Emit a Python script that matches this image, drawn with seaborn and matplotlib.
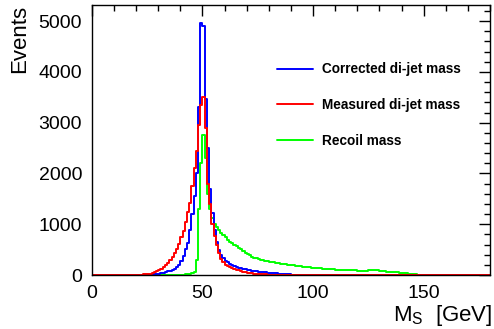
import numpy as np
import pandas as pd
import seaborn as sns
import matplotlib.pyplot as plt
from matplotlib.lines import Line2D
from matplotlib.ticker import MultipleLocator

# 1 GeV bins from 0 to 180, counts
n_bins = 180
x_range = (0, 180)

blue_start = 23
corrected = [2, 4, 6, 9, 13, 18, 24, 30, 38, 48,                # 23-32
             60, 72, 85, 100, 125, 160, 200, 280, 380, 520,    # 33-42
             640, 880, 1200, 1550, 2010, 3300, 4960, 4900, 3470, 2500,  # 43-52
             1700, 1220, 880, 660, 500, 400, 330, 280, 250, 215,  # 53-62
             195, 175, 160, 145, 130, 120, 110, 102, 95, 88,      # 63-72
             80, 74, 68, 62, 57, 52, 48, 44, 40, 36,             # 73-82
             32, 29, 26, 23, 20, 17, 14, 10, 6, 3, 2, 1]         # 83-94

red_start = 18
measured = [2, 3, 4, 6, 9, 12, 16, 20, 28, 38,                   # 18-27
            55, 75, 95, 120, 150, 190, 240, 290, 350, 430,     # 28-37
            520, 620, 740, 860, 1050, 1250, 1420, 1750, 2100, 2450,  # 38-47
            2950, 3350, 3500, 2900, 1800, 1400, 1000, 760, 590, 440,  # 48-57
            320, 250, 200, 170, 150, 130, 115, 100, 90, 75,     # 58-67
            65, 55, 48, 40, 34, 29, 25, 21, 17, 14,             # 68-77
            11, 9, 7, 6, 5, 4, 3, 2, 2, 1]                      # 78-87

green_start = 40
recoil = [5, 8, 12, 18, 25, 35, 60, 300, 1300, 2200,             # 40-49
          2760, 2300, 1600, 1300, 1130, 1000, 940, 890, 830, 790,  # 50-59
          750, 700, 660, 630, 600, 570, 540, 510, 480, 440,      # 60-69
          410, 390, 365, 345, 330, 315, 305, 295, 285, 270,      # 70-79
          262, 255, 248, 240, 232, 225, 218, 210, 204, 198,      # 80-89
          193, 188, 183, 178, 172, 166, 160, 155, 150, 146,      # 90-99
          142, 140, 136, 132, 128, 124, 120, 117, 114, 111,      # 100-109
          108, 105, 103, 101, 99, 97, 95, 93, 91, 90,            # 110-119
          88, 87, 86, 85, 88, 92, 95, 97, 96, 92,                # 120-129
          84, 78, 72, 68, 64, 60, 57, 55, 53, 50,                # 130-139
          47, 42, 36, 30, 24, 18, 13, 9, 6, 4,                   # 140-149
          2, 2, 1, 1]                                            # 150-153

labels = ["Corrected di-jet mass", "Measured di-jet mass", "Recoil mass"]
colors = ["#0000ff", "#ff0000", "#00ff00"]


def full_counts(start, vals):
    counts = np.zeros(n_bins)
    counts[start:start + len(vals)] = vals
    return counts


centers = np.arange(n_bins) + 0.5
series = [full_counts(blue_start, corrected),
          full_counts(red_start, measured),
          full_counts(green_start, recoil)]

sns.set_style("white")
plt.rcParams.update({
    "font.family": ["Liberation Sans", "DejaVu Sans"],
    "text.color": "black",
    "axes.labelcolor": "black",
    "xtick.color": "black",
    "ytick.color": "black",
})

fig = plt.figure(figsize=(4.94, 3.29), dpi=100)
ax = fig.add_axes([0.186, 0.164, 0.806, 0.821])

# draw green first so blue/red sit on top near the peak
for idx in [2, 0, 1]:
    df = pd.DataFrame({"mass": centers, "count": series[idx]})
    sns.histplot(data=df, x="mass", weights="count", bins=n_bins,
                 binrange=x_range, element="step", fill=False,
                 color=colors[idx], linewidth=1.4, ax=ax)

ax.set_xlim(*x_range)
ax.set_ylim(0, 5320)

ax.xaxis.set_major_locator(MultipleLocator(50))
ax.xaxis.set_minor_locator(MultipleLocator(10))
ax.yaxis.set_major_locator(MultipleLocator(1000))
ax.yaxis.set_minor_locator(MultipleLocator(200))
ax.tick_params(which="both", direction="in", top=True, right=True,
               color="black", width=1.0)
ax.tick_params(which="major", length=8, labelsize=14, pad=7)
ax.tick_params(which="minor", length=4)
for sp in ax.spines.values():
    sp.set_visible(True)
    sp.set_color("black")
    sp.set_linewidth(1.0)

ax.set_xlabel("M$_{\\mathregular{S}}$  [GeV]", fontsize=16, loc="right")
ax.xaxis.set_label_coords(1.007, -0.102)
ax.set_ylabel("Events", fontsize=16, loc="top")
ax.yaxis.set_label_coords(-0.155, 1.0)

handles = [Line2D([], [], color=c, lw=1.4) for c in colors]
ax.legend(handles, labels, loc="upper left", bbox_to_anchor=(0.433, 0.833),
          frameon=False, prop={"weight": "bold", "size": 9.8},
          handlelength=2.7, handletextpad=0.66, labelspacing=1.6)

plt.savefig("out.png", dpi=100)
